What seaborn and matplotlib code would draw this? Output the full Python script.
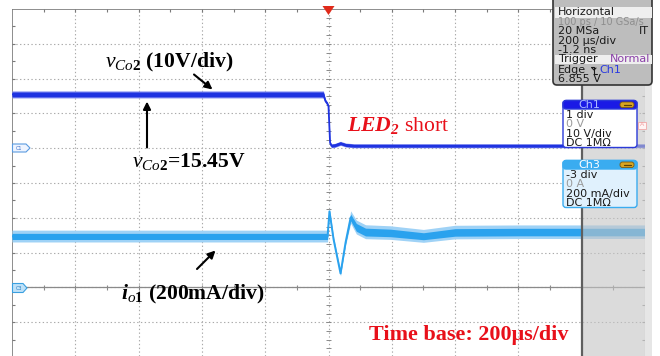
import matplotlib
matplotlib.use("Agg")
import matplotlib.pyplot as plt
import numpy as np
import pandas as pd
import seaborn as sns
from matplotlib.patches import FancyBboxPatch, Rectangle, Polygon

sns.set_style("white")
plt.rcParams["font.family"] = ["DejaVu Sans"]
plt.rcParams["mathtext.fontset"] = "custom"
plt.rcParams["mathtext.rm"] = "Liberation Serif:bold"
plt.rcParams["mathtext.it"] = "Liberation Serif:italic"
plt.rcParams["mathtext.bf"] = "Liberation Serif:bold"
try:
    plt.rcParams["mathtext.bfit"] = "Liberation Serif:italic:bold"
except KeyError:
    pass

# ---- captured waveforms (time in microseconds, trigger at 0) ----
ch1_time = [-1000, -16, -10, -4, 0, 5, 9, 20, 38, 55, 80, 1000]
ch1_volt = [15.45, 15.45, 13.6, 12.9, 12.0, 1.6, 0.7, 0.8, 1.4, 0.9, 0.7, 0.7]
ch1_noise = [0.7, 0.7, 0.4, 0.3, 0.3, 0.3, 0.4, 0.4, 0.4, 0.4, 0.4, 0.4]

ch3_time = [-1000, -3, 3, 16, 38, 54, 70, 88, 117, 196, 300, 400, 607, 1000]
ch3_curr = [293, 293, 437, 276, 80, 259, 402, 345, 318, 313, 294, 316, 318, 318]
ch3_noise = [22, 22, 5, 5, 5, 8, 24, 28, 28, 27, 25, 27, 27, 27]

# channel scale settings
ch1_scale = 10.0     # V/div
ch3_scale = 200.0    # mA/div
ch1_zero = 6.0       # ground marker position in screen divisions
ch3_zero = 2.0

# scope UI text
horiz_rows = ["100 ps / 10 GSa/s", "20 MSa", "200 µs/div", "-1.2 ns"]
ch1_rows = ["1 div", "0 V", "10 V/div", "DC 1MΩ"]
ch3_rows = ["-3 div", "0 A", "200 mA/div", "DC 1MΩ"]

W, H = 660, 356
DIV_PX = 34.8
fig = plt.figure(figsize=(W / 100, H / 100), dpi=100)
fig.patch.set_facecolor("white")

ax = fig.add_axes([12 / W, 0, 633 / W, (H - 9) / H])
ax.set_xlim(-1000, 1000)
ax.set_ylim(10 - (H - 9) / DIV_PX, 10)
ax.axis("off")

# graticule
grid_kw = dict(color="#a9a9a9", lw=0.8, ls=(0, (1.2, 2.2)), zorder=1)
for k in range(1, 10):
    ax.axvline(-1000 + 200 * k, **grid_kw)
for k in range(0, 10):
    ax.axhline(k, **grid_kw)
ax.axvline(-1000, color="#7a7a7a", lw=1.2, zorder=2)
ax.axhline(10, color="#7a7a7a", lw=1.2, zorder=2)
ax.axvline(1000, color="#b0b0b0", lw=0.8, zorder=2)
ax.axhline(ch3_zero, color="#8a8a8a", lw=0.9, zorder=2)

half_t = np.arange(-900, 1000, 100)
half_y = np.arange(0.5, 10, 0.5)
tick_t = 2000 / 633 * 3
ax.vlines(half_t, 10 - 3 / DIV_PX, 10, color="#7a7a7a", lw=0.8, zorder=2)
ax.hlines(half_y, -1000, -1000 + tick_t, color="#7a7a7a", lw=0.8, zorder=2)
ax.hlines(half_y, 1000 - tick_t, 1000, color="#9a9a9a", lw=0.8, zorder=2)
ax.vlines(half_t, ch3_zero - 2.5 / DIV_PX, ch3_zero + 2.5 / DIV_PX, color="#8a8a8a", lw=0.8, zorder=2)
quarter_y = np.arange(0.25, 10, 0.25)
ax.hlines(quarter_y, -tick_t * 0.7, tick_t * 0.7, color="#8a8a8a", lw=0.7, zorder=2)

# Ch1 trace (output capacitor voltage)
t1 = np.array(ch1_time, float)
y1 = ch1_zero + np.array(ch1_volt) / ch1_scale
n1 = np.array(ch1_noise) / ch1_scale
ax.fill_between(t1, y1 - n1 * 1.45, y1 + n1 * 1.45, color="#8a94f2", lw=0, zorder=3)
ax.fill_between(t1, y1 - n1, y1 + n1, color="#1f33e0", lw=0, zorder=3)
df1 = pd.DataFrame({"t": t1, "y": y1})
sns.lineplot(data=df1, x="t", y="y", ax=ax, color="#1f33e0", lw=1.3, zorder=4, sort=False)

# Ch3 trace (LED string current)
t3 = np.array(ch3_time, float)
y3 = ch3_zero + np.array(ch3_curr) / ch3_scale
n3 = np.array(ch3_noise) / ch3_scale
ax.fill_between(t3, y3 - n3 - 0.05, y3 + n3 + 0.07, color="#9fd2f6", lw=0, zorder=3)
ax.fill_between(t3, y3 - n3 * 0.8, y3 + n3 * 0.8, color="#2aa2ee", lw=0, zorder=3)
df3 = pd.DataFrame({"t": t3, "y": y3})
sns.lineplot(data=df3, x="t", y="y", ax=ax, color="#2aa2ee", lw=1.4, zorder=4, sort=False)

# shaded right-hand division
ax.axvspan(800, 1000, color="#c4c4c4", alpha=0.6, lw=0, zorder=5)
ax.axvline(800, color="#5f5f5f", lw=1.6, zorder=6)

# ---- pixel-space overlay ----
ov = fig.add_axes([0, 0, 1, 1])
ov.set_xlim(0, W)
ov.set_ylim(H, 0)
ov.axis("off")
ov.patch.set_alpha(0)

ov.add_patch(Rectangle((645, 0), 7, H, fc="#e6e6e6", ec="none"))

# trigger marker
ov.add_patch(Polygon([[322.5, 6], [334.5, 6], [328.5, 15]], closed=True, fc="#e02a1a", ec="none"))

# channel ground markers
ov.add_patch(Polygon([[12.5, 144], [26, 144], [30, 148], [26, 152], [12.5, 152]], closed=True,
                     fc="#eef4ff", ec="#5b9be0", lw=0.8))
ov.text(19.5, 148, "C1", fontsize=3.5, color="#3a6ec8", ha="center", va="center")
ov.add_patch(Polygon([[12.5, 283.5], [23, 283.5], [27, 288], [23, 292.5], [12.5, 292.5]], closed=True,
                     fc="#bfe1f8", ec="#3aa0e0", lw=0.8))
ov.text(18.5, 288, "C3", fontsize=3.5, color="#2a7ec0", ha="center", va="center")

# Horizontal / Trigger panel
UI_FS = 8.0
ov.add_patch(FancyBboxPatch((553, -10), 99, 95, boxstyle="round,pad=0,rounding_size=4",
                            fc="#bdbdbd", ec="#333333", lw=1.2))
ov.add_patch(Rectangle((555, 7), 97, 10.5, fc="#efefef", ec="none"))
ov.add_patch(Rectangle((555, 54.5), 97, 9.5, fc="#efefef", ec="none"))
ui = dict(fontsize=UI_FS, va="center", ha="left", color="#1a1a1a")
ov.text(558, 12.2, "Horizontal", **ui)
row_y = [22, 31.5, 41, 50]
ov.text(558, row_y[0], horiz_rows[0], **{**ui, "color": "#8e8e8e", "fontsize": 7.0})
for yy, s in zip(row_y[1:], horiz_rows[1:]):
    ov.text(558, yy, s, **ui)
ov.text(649, row_y[1], "IT", **{**ui, "ha": "right"})
ov.text(559, 59.3, "Trigger", **ui)
ov.text(650, 59.3, "Normal", **{**ui, "ha": "right", "color": "#8a3fa8"})
ov.text(558, 70, "Edge", **ui)
ov.plot([591, 594, 594, 597], [66.5, 66.5, 73.5, 73.5], color="#1a1a1a", lw=0.8)
ov.plot([592, 594, 596], [68, 70, 68], color="#1a1a1a", lw=0.8)
ov.text(599, 70, "Ch1", **{**ui, "color": "#2a3ae0"})
ov.text(558, 79, "6.855 V", **ui)

# trigger-level tag
ov.add_patch(Rectangle((638, 121.5), 8, 7, fc="#fff4f4", ec="#f0a8a8", lw=0.6))
ov.text(642, 125, "A", fontsize=4.5, color="#f0a0a0", ha="center", va="center")


def channel_box(y0, head_fc, head_tc, body_fc, edge, rows, row_ys, name):
    ov.add_patch(FancyBboxPatch((563, y0), 74, row_ys[-1] + 5 - y0,
                                boxstyle="round,pad=0,rounding_size=3",
                                fc=body_fc, ec=edge, lw=1.0, zorder=7))
    ov.add_patch(FancyBboxPatch((563, y0), 74, 8.5, boxstyle="round,pad=0,rounding_size=3",
                                fc=head_fc, ec=edge, lw=1.0, zorder=7))
    ov.text(589, y0 + 4.5, name, fontsize=UI_FS, color=head_tc, ha="center", va="center", zorder=8)
    ov.add_patch(FancyBboxPatch((620, y0 + 1.5), 14, 5.5, boxstyle="round,pad=0,rounding_size=2.5",
                                fc="#d9a521", ec="#7a5a10", lw=0.6, zorder=8))
    ov.plot([623.5, 630.5], [y0 + 4.2, y0 + 4.2], color="#5a4008", lw=0.9, zorder=9)
    for i, (s, yy) in enumerate(zip(rows, row_ys)):
        ov.text(565.5, yy, s, fontsize=UI_FS, va="center", ha="left",
                color="#9a9a9a" if i == 1 else "#1a1a1a", zorder=8)


channel_box(100.5, "#1a1ae6", "#aab8ff", "white", "#2a3ad8", ch1_rows, [115, 124, 133.5, 142.5], "Ch1")
channel_box(160.5, "#3aacf0", "white", "#e0f1fd", "#3aacf0", ch3_rows, [175, 184, 193.5, 202.5], "Ch3")

# annotations
serif = dict(family="Liberation Serif", fontsize=15.6, va="center", ha="left")
ov.text(105, 62, r"$v_{\mathit{Co2}}$ (10V/div)", fontweight="bold", color="black", **serif)
ov.text(132, 161, r"$v_{\mathit{Co2}}$=15.45V", fontweight="bold", color="black", **serif)
ov.text(121, 294, r"$\mathbfit{i}_{\mathit{o1}}$ (200mA/div)", fontweight="bold", color="black", **serif)
ov.text(347, 125, r"$\mathbfit{LED}_{\mathbfit{2}}$ short", fontweight="normal", color="#e8101a", **serif)
ov.text(369, 335, "Time base: 200μs/div", family="Liberation Serif", fontsize=15.9,
        fontweight="bold", color="#e8101a", va="center", ha="left")

arrow = dict(arrowstyle="-|>", color="black", lw=1.5, mutation_scale=11, shrinkA=0, shrinkB=0)
ov.annotate("", xy=(212.5, 89.5), xytext=(194, 74.5), arrowprops=arrow)
ov.annotate("", xy=(147, 101.5), xytext=(147, 147.5), arrowprops=arrow)
ov.annotate("", xy=(215.5, 250.5), xytext=(197, 269), arrowprops=arrow)

fig.savefig("out.png", dpi=100)
